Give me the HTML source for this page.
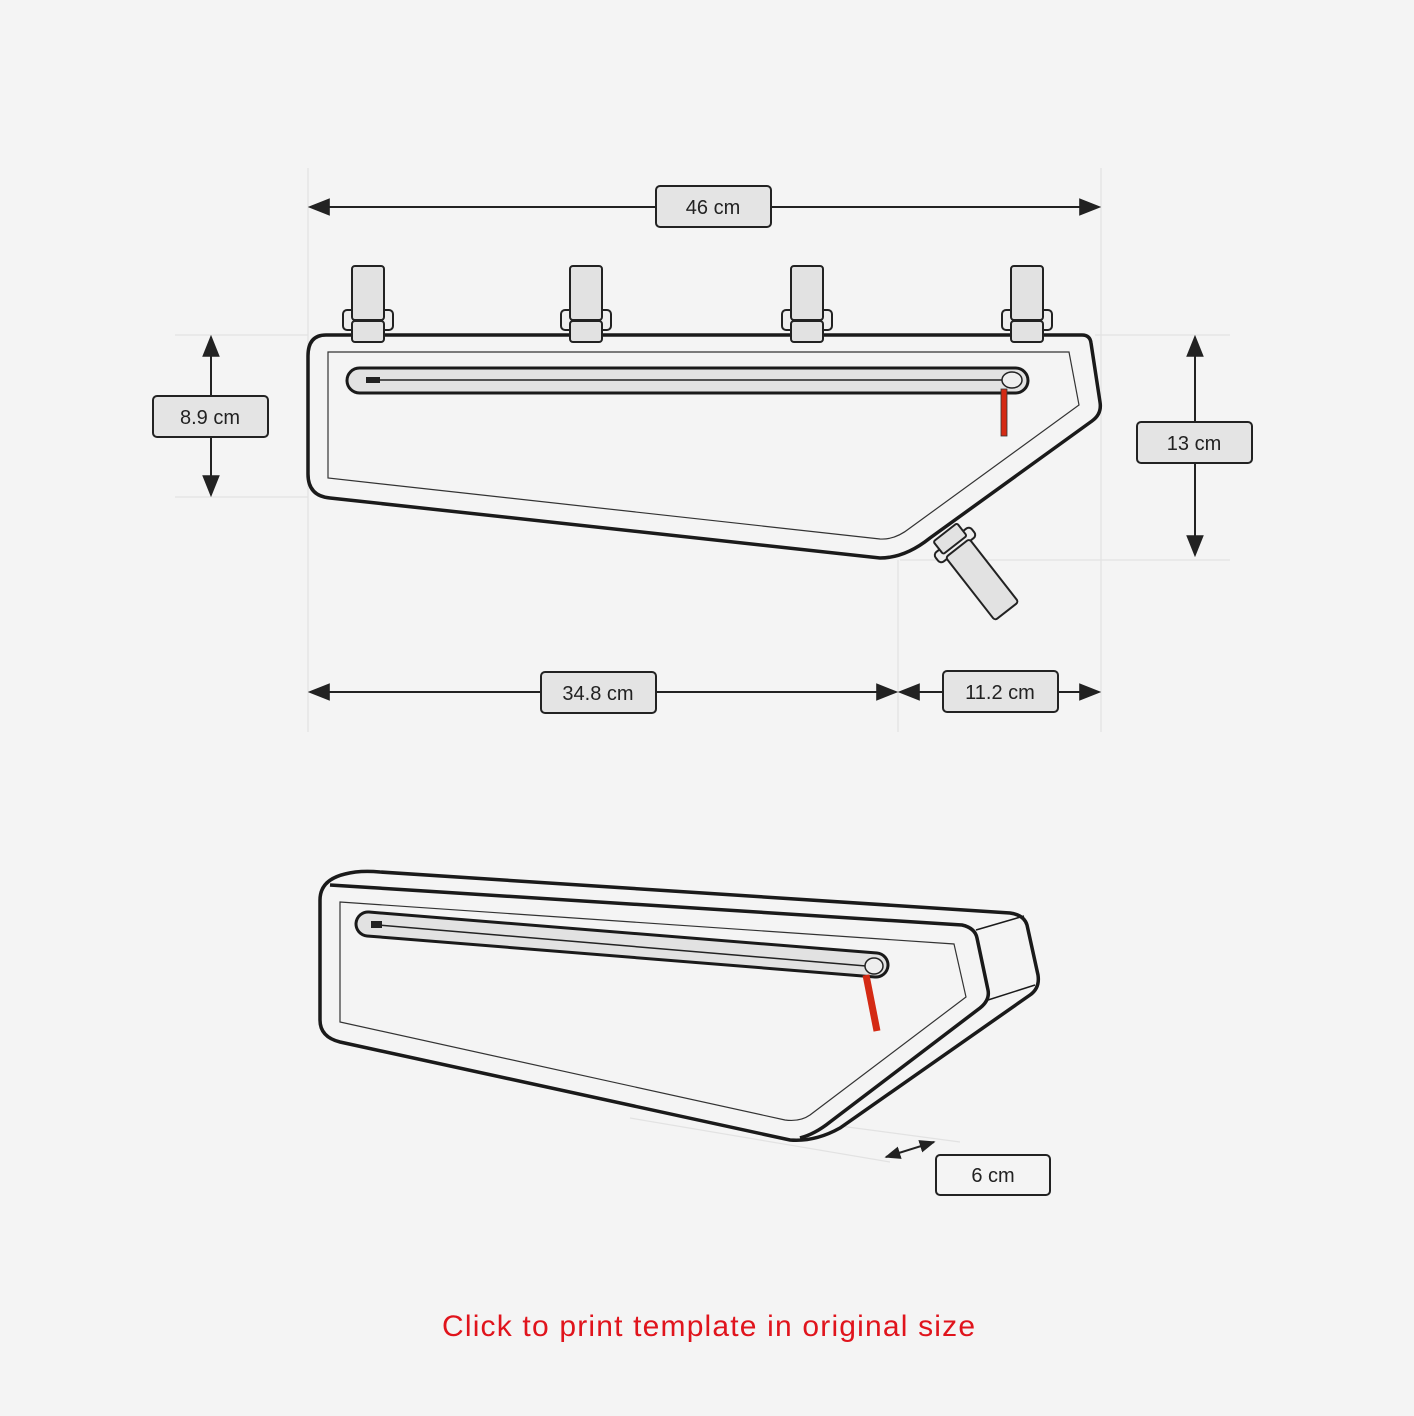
<!DOCTYPE html>
<html><head><meta charset="utf-8"><style>
html,body{margin:0;padding:0;background:#f4f4f4}
svg{display:block}
text{font-family:"Liberation Sans",sans-serif}
</style></head><body>
<svg width="1414" height="1416" viewBox="0 0 1414 1416" xmlns="http://www.w3.org/2000/svg">
<rect width="1414" height="1416" fill="#f4f4f4"/>
<defs>
<marker id="a" viewBox="0 0 10 10" refX="9" refY="5" markerWidth="22" markerHeight="22" markerUnits="userSpaceOnUse" orient="auto-start-reverse"><path d="M0,1 L10,5 L0,9 Z" fill="#222"/></marker>
<marker id="b" viewBox="0 0 10 10" refX="9" refY="5" markerWidth="16" markerHeight="16" markerUnits="userSpaceOnUse" orient="auto-start-reverse"><path d="M0,1 L10,5 L0,9 Z" fill="#222"/></marker>
</defs>
<g stroke="#e2e2e2" stroke-width="1.2" fill="none">
<line x1="308" y1="168" x2="308" y2="732"/>
<line x1="1101" y1="168" x2="1101" y2="732"/>
<line x1="898" y1="560" x2="898" y2="732"/>
<line x1="175" y1="335" x2="308" y2="335"/>
<line x1="175" y1="497" x2="308" y2="497"/>
<line x1="1095" y1="335" x2="1230" y2="335"/>
<line x1="900" y1="560" x2="1230" y2="560"/>
<line x1="630" y1="1118" x2="890" y2="1162"/>
<line x1="840" y1="1126" x2="960" y2="1142"/>
</g>
<g stroke="#222" stroke-width="2" fill="none">
<line x1="310" y1="207" x2="1099" y2="207" marker-start="url(#a)" marker-end="url(#a)"/>
<line x1="211" y1="337" x2="211" y2="495" marker-start="url(#a)" marker-end="url(#a)"/>
<line x1="1195" y1="337" x2="1195" y2="555" marker-start="url(#a)" marker-end="url(#a)"/>
<line x1="310" y1="692" x2="896" y2="692" marker-start="url(#a)" marker-end="url(#a)"/>
<line x1="900" y1="692" x2="1099" y2="692" marker-start="url(#a)" marker-end="url(#a)"/>
<line x1="886" y1="1157" x2="934" y2="1142" marker-start="url(#b)" marker-end="url(#b)"/>
</g>
<g stroke="#222" stroke-width="2" fill="#e4e4e4">
<rect x="656" y="186" width="115" height="41" rx="4"/>
<rect x="153" y="396" width="115" height="41" rx="4"/>
<rect x="1137" y="422" width="115" height="41" rx="4"/>
<rect x="541" y="672" width="115" height="41" rx="4"/>
<rect x="943" y="671" width="115" height="41" rx="4"/>
<rect x="936" y="1155" width="114" height="40" rx="4" fill="#f4f4f4"/>
</g>
<g font-size="20" fill="#222" text-anchor="middle">
<text x="713" y="214">46 cm</text>
<text x="210" y="424">8.9 cm</text>
<text x="1194" y="450">13 cm</text>
<text x="598" y="700">34.8 cm</text>
<text x="1000" y="699">11.2 cm</text>
<text x="993" y="1182">6 cm</text>
</g>
<g stroke="#222" stroke-width="2" fill="#e2e2e2">
<g transform="translate(955,545) rotate(-38)">
<rect x="-23" y="-6" width="46" height="12" rx="4" fill="#eee"/>
<rect x="-15" y="-16" width="30" height="16" rx="2"/>
<rect x="-15" y="4" width="30" height="80" rx="3"/>
</g>
</g>
<path d="M326,335 L1082,335 Q1090,335 1091,343 L1100,402 Q1102,414 1092,421 L930,538 Q905,558 880,558 L330,498 Q308,496 308,474 L308,356 Q308,335 326,335 Z" fill="#f4f4f4" stroke="#1a1a1a" stroke-width="3.5"/>
<path d="M328,352 L1069,352 L1079,405 L910,528 Q895,540 880,539 L328,478 Z" fill="none" stroke="#333" stroke-width="1.2"/>
<rect x="347" y="368" width="681" height="25" rx="12.5" fill="#e2e2e2" stroke="#1a1a1a" stroke-width="3"/>
<line x1="375" y1="380" x2="1005" y2="380" stroke="#222" stroke-width="1.5"/>
<rect x="366" y="377" width="14" height="6" fill="#222"/>
<ellipse cx="1012" cy="380" rx="10" ry="8" fill="#eee" stroke="#222" stroke-width="1.5"/>
<rect x="1001" y="389" width="6" height="47" fill="#d42a14" stroke="#333" stroke-width="0.8"/>
<g stroke="#222" stroke-width="2" fill="#e2e2e2">
<g transform="translate(368,0)"><rect x="-25" y="310" width="50" height="20" rx="4" fill="#eee"/><rect x="-16" y="266" width="32" height="54" rx="3"/><rect x="-16" y="321" width="32" height="21" rx="3"/></g>
<g transform="translate(586,0)"><rect x="-25" y="310" width="50" height="20" rx="4" fill="#eee"/><rect x="-16" y="266" width="32" height="54" rx="3"/><rect x="-16" y="321" width="32" height="21" rx="3"/></g>
<g transform="translate(807,0)"><rect x="-25" y="310" width="50" height="20" rx="4" fill="#eee"/><rect x="-16" y="266" width="32" height="54" rx="3"/><rect x="-16" y="321" width="32" height="21" rx="3"/></g>
<g transform="translate(1027,0)"><rect x="-25" y="310" width="50" height="20" rx="4" fill="#eee"/><rect x="-16" y="266" width="32" height="54" rx="3"/><rect x="-16" y="321" width="32" height="21" rx="3"/></g>
</g>
<path d="M345,874 Q360,870 380,872 L1010,913 Q1024,915 1027,925 L1038,975 Q1040,988 1030,995 L840,1128 Q815,1142 790,1140 L340,1042 Q320,1037 320,1020 L320,900 Q320,880 345,874 Z" fill="#f4f4f4" stroke="#1a1a1a" stroke-width="3.5"/>
<path d="M330,885 L962,925 Q975,928 977,938 L988,990 Q990,1000 980,1008 L830,1122 Q815,1134 800,1138" fill="none" stroke="#1a1a1a" stroke-width="3.5"/>
<line x1="976" y1="930" x2="1024" y2="916" stroke="#1a1a1a" stroke-width="1.5"/>
<line x1="988" y1="1000" x2="1035" y2="985" stroke="#1a1a1a" stroke-width="1.5"/>
<path d="M340,902 L954,944 L966,997 L810,1115 Q800,1122 785,1120 L340,1022 Z" fill="none" stroke="#333" stroke-width="1.2"/>
<line x1="368" y1="924" x2="876" y2="965" stroke="#1a1a1a" stroke-width="27" stroke-linecap="round"/>
<line x1="368" y1="924" x2="876" y2="965" stroke="#e2e2e2" stroke-width="21" stroke-linecap="round"/>
<line x1="378" y1="925" x2="866" y2="966" stroke="#222" stroke-width="1.5"/>
<rect x="371" y="921" width="11" height="7" fill="#222"/>
<ellipse cx="874" cy="966" rx="9" ry="8" fill="#eee" stroke="#222" stroke-width="1.5"/>
<line x1="866" y1="975" x2="877" y2="1031" stroke="#d42a14" stroke-width="7"/>
<text x="442" y="1336" font-size="30" fill="#e0141c" textLength="533" lengthAdjust="spacing">Click to print template in original size</text>
</svg>
</body></html>
